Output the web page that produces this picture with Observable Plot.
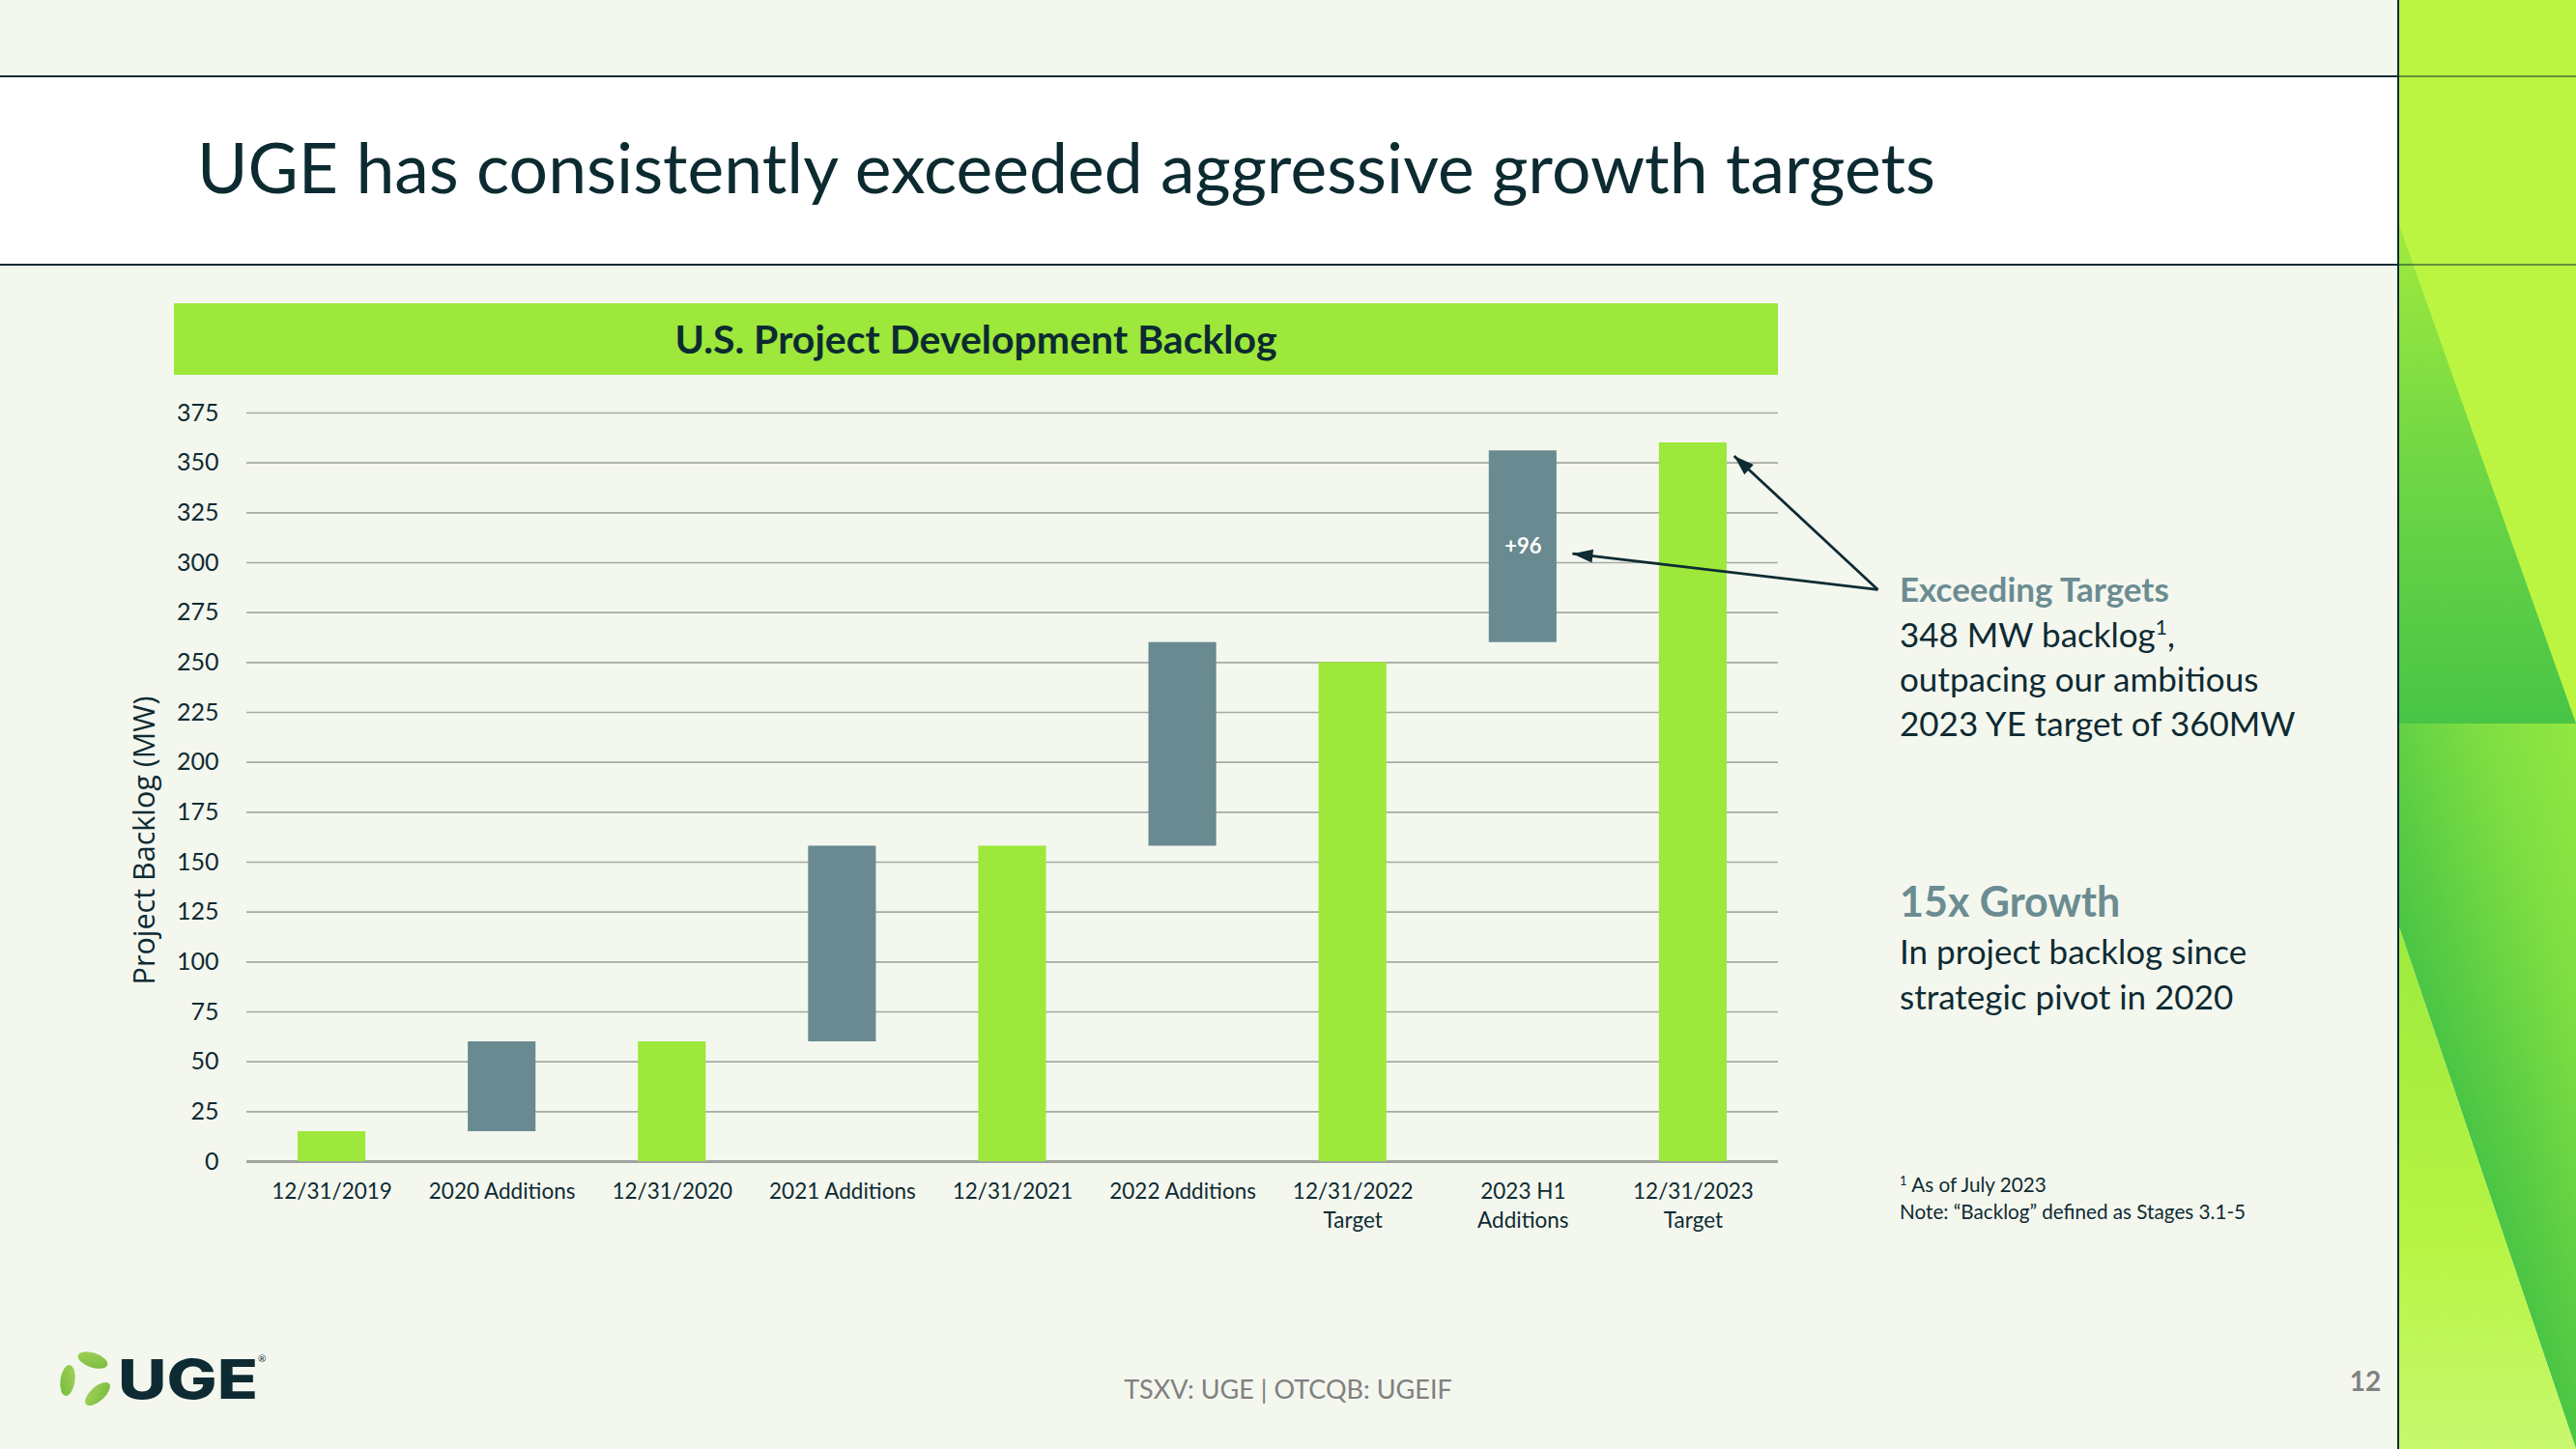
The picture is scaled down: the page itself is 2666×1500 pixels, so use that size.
<!DOCTYPE html>
<html>
<head>
<meta charset="utf-8">
<script src="https://cdn.jsdelivr.net/npm/d3@7"></script>
<script src="https://cdn.jsdelivr.net/npm/@observablehq/plot@0.6"></script>
<style>
  html, body { margin: 0; padding: 0; }
  body { width: 2666px; height: 1500px; overflow: hidden; background: #f4f7ee; position: relative; font-family: Lato, sans-serif; }
  #bg { position: absolute; left: 0; top: 0; }
  #chart { position: absolute; left: 120px; top: 400px; }
</style>
</head>
<body>
<svg id="bg" width="2666" height="1500" xmlns="http://www.w3.org/2000/svg">
  <defs>
    <linearGradient id="triTop" x1="0" y1="230" x2="0" y2="749" gradientUnits="userSpaceOnUse">
      <stop offset="0" stop-color="#a2ea3e"/>
      <stop offset="0.5" stop-color="#6ed645"/>
      <stop offset="1" stop-color="#48c446"/>
    </linearGradient>
    <linearGradient id="bandBot" x1="2574" y1="1228" x2="2811" y2="1148" gradientUnits="userSpaceOnUse">
      <stop offset="0" stop-color="#4bc545"/>
      <stop offset="0.55" stop-color="#7cdd42"/>
      <stop offset="1" stop-color="#95e841"/>
    </linearGradient>
    <linearGradient id="lowBot" x1="0" y1="957" x2="0" y2="1500" gradientUnits="userSpaceOnUse">
      <stop offset="0" stop-color="#9cea3e"/>
      <stop offset="0.6" stop-color="#b6f443"/>
      <stop offset="1" stop-color="#c8f86e"/>
    </linearGradient>
    <linearGradient id="leaf" x1="0" y1="0" x2="1" y2="1">
      <stop offset="0" stop-color="#a5d45a"/>
      <stop offset="1" stop-color="#74b83e"/>
    </linearGradient>
  </defs>
  <rect x="0" y="0" width="2666" height="1500" fill="#f4f7ee"/>
  <rect x="0" y="79" width="2482" height="195" fill="#ffffff"/>

  <!-- right decorative panel -->
  <rect x="2482" y="0" width="184" height="749" fill="#bbf542"/>
  <polygon points="2482,230 2666,749 2482,749" fill="url(#triTop)"/>
  <polygon points="2482,749 2666,749 2666,1500 2482,957" fill="url(#bandBot)"/>
  <polygon points="2482,957 2666,1500 2482,1500" fill="url(#lowBot)"/>
  <line x1="2482" y1="0" x2="2482" y2="1500" stroke="#0e2b33" stroke-width="2"/>

  <line x1="0" y1="79" x2="2482" y2="79" stroke="#0e2b33" stroke-width="2"/>
  <line x1="0" y1="274" x2="2482" y2="274" stroke="#0e2b33" stroke-width="2"/>
  <line x1="2482" y1="79" x2="2666" y2="79" stroke="#0e2b33" stroke-width="1"/>
  <line x1="2482" y1="274" x2="2666" y2="274" stroke="#0e2b33" stroke-width="1"/>

  <text id="title" x="204" y="200" font-family="Lato" font-size="71.5" fill="#0c2b31">UGE has consistently exceeded aggressive growth targets</text>

  <!-- chart header bar -->
  <rect x="180" y="314" width="1660" height="74" fill="#9de83a"/>
  <text x="1010" y="366" text-anchor="middle" font-family="Lato" font-weight="700" font-size="41" fill="#0c2b31">U.S. Project Development Backlog</text>

  <!-- side commentary -->
  <g font-family="Lato" fill="#0e2b33">
    <text x="1966" y="623" font-size="35" font-weight="700" fill="#6b8c92">Exceeding Targets</text>
    <text x="1966" y="670" font-size="35">348 MW backlog<tspan font-size="21" dy="-13">1</tspan><tspan dy="13">,</tspan></text>
    <text x="1966" y="716" font-size="35">outpacing our ambitious</text>
    <text x="1966" y="762" font-size="35">2023 YE target of 360MW</text>
    <text x="1966" y="949" font-size="43" font-weight="700" fill="#6b8c92">15x Growth</text>
    <text x="1966" y="998" font-size="35">In project backlog since</text>
    <text x="1966" y="1045" font-size="35">strategic pivot in 2020</text>
    <text x="1966" y="1234" font-size="20.7"><tspan font-size="13" dy="-7">1</tspan><tspan dy="7"> As of July 2023</tspan></text>
    <text x="1966" y="1262" font-size="20.7">Note: “Backlog” defined as Stages 3.1-5</text>
  </g>

  <!-- footer -->
  <text x="1333" y="1448" text-anchor="middle" font-family="Lato" font-size="27" fill="#808080">TSXV: UGE | OTCQB: UGEIF</text>
  <text x="2448" y="1440" text-anchor="middle" font-family="Lato" font-weight="700" font-size="28" fill="#808080">12</text>

  <!-- logo -->
  <g transform="translate(89,1426)" fill="url(#leaf)">
    <ellipse cx="0" cy="0" rx="16" ry="7.5" transform="translate(7,-18) rotate(18)"/>
    <ellipse cx="0" cy="0" rx="16" ry="7.5" transform="translate(-19,3) rotate(98)"/>
    <ellipse cx="0" cy="0" rx="16" ry="7.5" transform="translate(12,17) rotate(-42)"/>
  </g>
  <text x="122" y="1448" font-family="Inter, Roboto, sans-serif" font-weight="800" font-size="56" fill="#0e2b33" textLength="145" lengthAdjust="spacingAndGlyphs">UGE</text>
  <text x="267" y="1410" font-family="Lato" font-size="10" fill="#0e2b33">®</text>
</svg>

<div id="chart"></div>

<script>
// ---- data ----
const categories = [
  "12/31/2019", "2020 Additions", "12/31/2020", "2021 Additions", "12/31/2021",
  "2022 Additions", "12/31/2022\nTarget", "2023 H1\nAdditions", "12/31/2023\nTarget"
];
const barStart = [0, 15, 0, 60, 0, 158, 0, 260, 0];
const barEnd   = [15, 60, 60, 158, 158, 260, 250, 356, 360];
const barKind  = ["level", "addition", "level", "addition", "level", "addition", "level", "addition", "level"];
const yTicks   = [0, 25, 50, 75, 100, 125, 150, 175, 200, 225, 250, 275, 300, 325, 350, 375];
const yLabel   = "Project Backlog (MW)";
const labelledBar = "2023 H1\nAdditions";
// annotation arrows (data space: x = band index, y = MW)
const arrowFrom = {x: 9.585, y: 286.5};
const arrowTips = [{x: 8.74, y: 353.5}, {x: 7.79, y: 304.5}];

const lime = "#9de83a", slate = "#688a90", ink = "#0e2b33";

// layout
const W = 1880, H = 900, mL = 135, mR = 160, mT = 27, mB = 98;
const xDomain = [0, categories.length], yDomain = [0, 375];

const data = categories.map((c, i) => ({i, category: c, start: barStart[i], end: barEnd[i], kind: barKind[i]}));

// screen-space direction of each arrow, for orienting its filled head
const sx = d3.scaleLinear(xDomain, [mL, W - mR]);
const sy = d3.scaleLinear(yDomain, [H - mB, mT]);
const arrows = arrowTips.map(t => {
  const dx = sx(t.x) - sx(arrowFrom.x), dy = sy(t.y) - sy(arrowFrom.y);
  return {x1: arrowFrom.x, y1: arrowFrom.y, x2: t.x, y2: t.y, angle: Math.atan2(dx, -dy) * 180 / Math.PI};
});
const arrowHead = {
  draw(context) {
    context.moveTo(0, 0);
    context.lineTo(-7, 21);
    context.lineTo(7, 21);
    context.closePath();
  }
};

const chart = Plot.plot({
  width: W,
  height: H,
  marginLeft: mL,
  marginRight: mR,
  marginTop: mT,
  marginBottom: mB,
  style: {background: "transparent", fontFamily: "Lato, sans-serif", color: ink, overflow: "visible"},
  x: {type: "linear", domain: xDomain},
  y: {domain: yDomain},
  color: {domain: ["level", "addition"], range: [lime, slate]},
  marks: [
    Plot.gridY({ticks: yTicks, stroke: "#a6aaa6", strokeOpacity: 1, strokeWidth: 1.6}),
    Plot.ruleY([0], {stroke: "#a0a5a0", strokeWidth: 3}),
    Plot.rectY(data, {x1: "i", x2: d => d.i + 1, y1: "start", y2: "end", fill: "kind", insetLeft: 53, insetRight: 53}),
    Plot.text(data.filter(d => d.category === labelledBar), {
      x: d => d.i + 0.5, y: d => (d.start + d.end) / 2, text: d => `+${d.end - d.start}`,
      fill: "white", fontWeight: 700, fontSize: 22
    }),
    Plot.link(arrows, {x1: "x1", y1: "y1", x2: "x2", y2: "y2", stroke: ink, strokeWidth: 2.8}),
    Plot.dot(arrows, {x: "x2", y: "y2", rotate: "angle", symbol: arrowHead, fill: ink, stroke: "none", r: 10}),
    Plot.axisY({ticks: yTicks, tickSize: 0, tickPadding: 29, fontSize: 25, label: null, fill: ink}),
    Plot.axisX({
      ticks: categories.map((c, i) => i + 0.5),
      tickFormat: v => categories[Math.floor(v)],
      tickSize: 0, tickPadding: 17, fontSize: 22.5, lineHeight: 1.35, label: null, fill: ink
    }),
    Plot.text([yLabel], {
      frameAnchor: "left", textAnchor: "middle", rotate: -90, dx: -117, dy: 55, lineAnchor: "top",
      fontFamily: "Open Sans", fontSize: 30.5, fill: ink
    })
  ]
});
document.getElementById("chart").appendChild(chart);
</script>
</body>
</html>
